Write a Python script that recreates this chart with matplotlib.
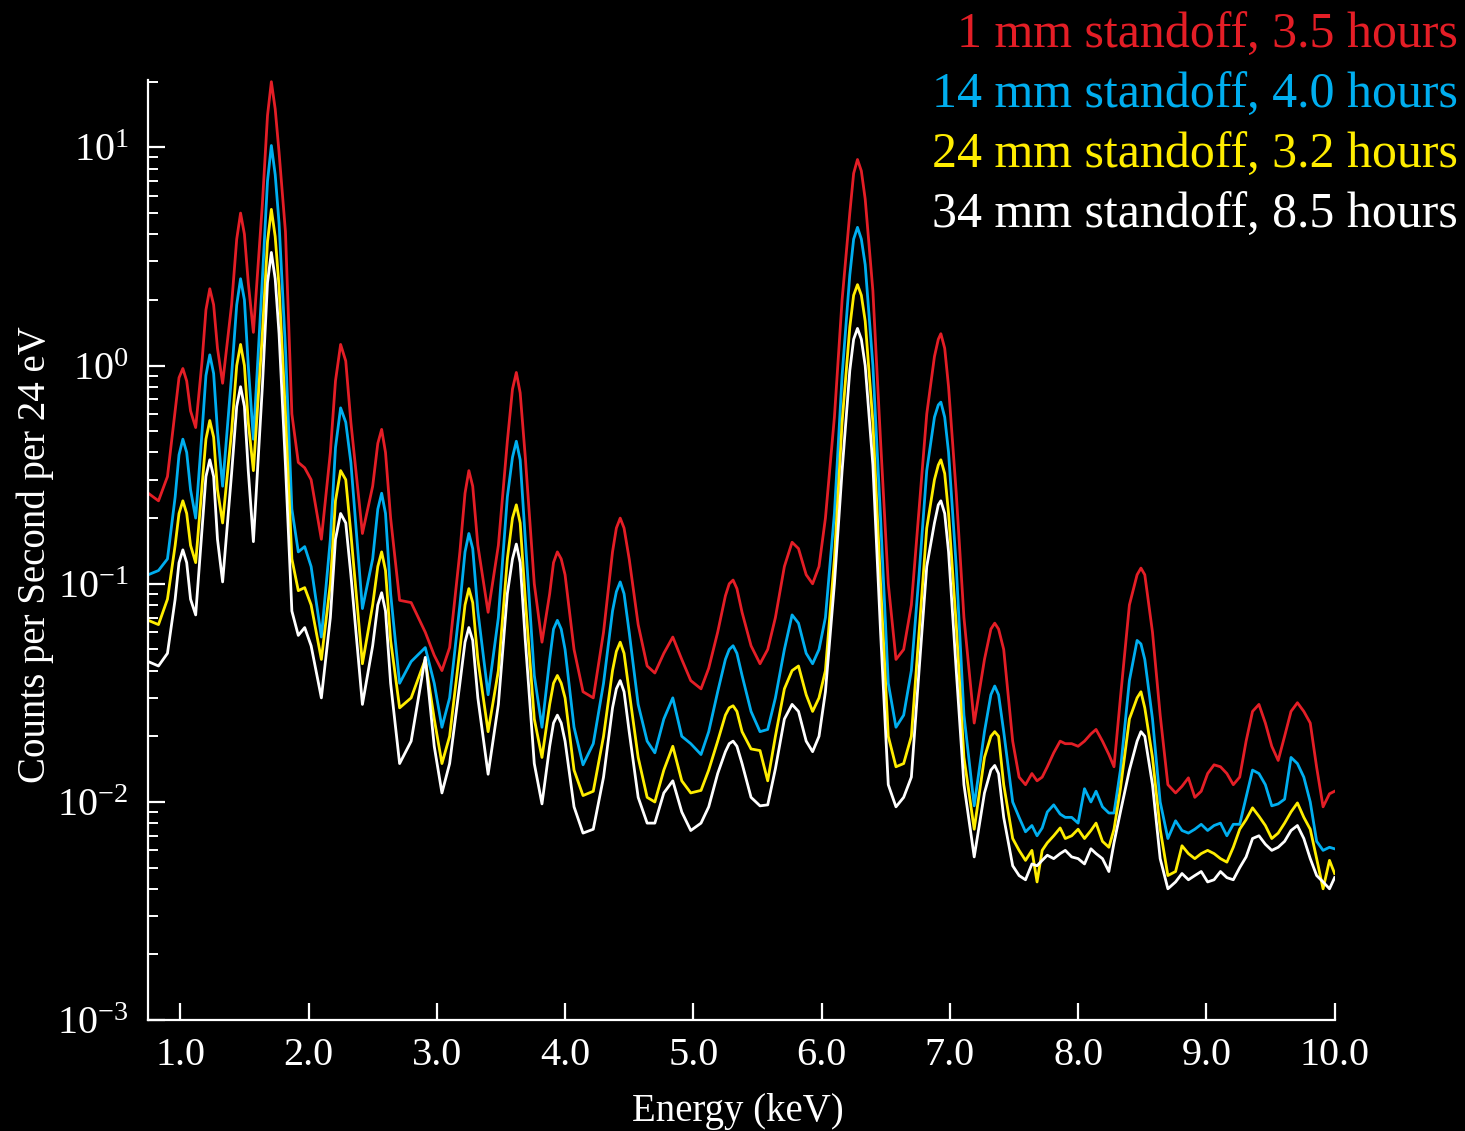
import matplotlib.pyplot as plt
from matplotlib.ticker import FixedLocator, NullFormatter

# serif fonts everywhere, mathtext too (for the 10^n tick labels)
plt.rcParams['font.family'] = 'Liberation Serif'
plt.rcParams['mathtext.fontset'] = 'custom'
plt.rcParams['mathtext.rm'] = 'Liberation Serif'
plt.rcParams['mathtext.default'] = 'regular'

# energy channels (keV), shared by all four spectra
energy = [
    0.75, 0.83, 0.90, 0.96, 0.99, 1.02, 1.05, 1.08, 1.12, 1.17, 1.20, 1.23, 1.26, 1.29, 1.33, 1.40, 1.44, 1.47, 1.50, 1.53, 1.57, 1.64, 1.68, 1.71, 1.74, 1.77, 1.82, 1.87, 1.92, 1.97, 2.02,
    2.10, 2.17, 2.21, 2.25, 2.29, 2.33, 2.42, 2.50, 2.54, 2.57, 2.60, 2.64, 2.71, 2.80, 2.91, 2.98, 3.04,
    3.10, 3.18, 3.22, 3.25, 3.28, 3.32, 3.40, 3.48, 3.55, 3.59, 3.62, 3.65, 3.69, 3.76, 3.82, 3.88, 3.91, 3.94, 3.97, 4.00,
    4.07, 4.14, 4.22, 4.30, 4.37, 4.40, 4.43, 4.46, 4.50, 4.57, 4.64, 4.70, 4.77, 4.84, 4.91, 4.98,
    5.06, 5.12, 5.19, 5.25, 5.28, 5.31, 5.34, 5.38, 5.45, 5.52, 5.58, 5.64, 5.71, 5.77, 5.82, 5.88, 5.93, 5.98,
    6.03, 6.10, 6.16, 6.22, 6.25, 6.28, 6.31, 6.34, 6.40, 6.46, 6.52, 6.58, 6.64, 6.70, 6.76, 6.82, 6.88, 6.91, 6.93, 6.96, 6.99, 7.05,
    7.11, 7.19, 7.27, 7.32, 7.35, 7.38, 7.42, 7.49, 7.54, 7.59, 7.64, 7.68, 7.72, 7.76, 7.81, 7.86, 7.90, 7.95, 8.00, 8.05, 8.10, 8.14,
    8.19, 8.24, 8.28, 8.33, 8.40, 8.46, 8.49, 8.52, 8.58, 8.64, 8.70, 8.76, 8.81, 8.86, 8.91, 8.96, 9.01,
    9.06, 9.11, 9.16, 9.21, 9.26, 9.31, 9.36, 9.41, 9.46, 9.51, 9.56, 9.61, 9.66, 9.71, 9.76, 9.81, 9.86, 9.91, 9.96, 10.00,
]

# counts per second per 24 eV
standoff_1mm = [
    0.26, 0.24, 0.31, 0.62, 0.88, 0.97, 0.85, 0.62, 0.52, 1.05, 1.8, 2.25, 1.9, 1.2, 0.83, 1.9, 3.8, 5.0, 4.0, 2.4, 1.42, 5.5, 14.0, 20.0, 15.0, 9.5, 4.1, 0.60, 0.36, 0.34, 0.30,
    0.16, 0.40, 0.85, 1.25, 1.05, 0.55, 0.17, 0.28, 0.44, 0.51, 0.40, 0.20, 0.084, 0.082, 0.060, 0.047, 0.040,
    0.051, 0.14, 0.26, 0.33, 0.28, 0.15, 0.074, 0.15, 0.45, 0.78, 0.93, 0.75, 0.38, 0.10, 0.054, 0.09, 0.125, 0.14, 0.13, 0.11,
    0.050, 0.032, 0.030, 0.060, 0.14, 0.18, 0.20, 0.18, 0.13, 0.065, 0.042, 0.039, 0.048, 0.057, 0.045, 0.036,
    0.033, 0.041, 0.060, 0.088, 0.100, 0.104, 0.095, 0.074, 0.052, 0.043, 0.050, 0.070, 0.12, 0.155, 0.145, 0.11, 0.10, 0.12,
    0.20, 0.58, 2.0, 5.0, 7.6, 8.8, 7.8, 5.8, 2.2, 0.45, 0.10, 0.045, 0.050, 0.080, 0.22, 0.60, 1.10, 1.32, 1.40, 1.20, 0.80, 0.26,
    0.070, 0.023, 0.045, 0.062, 0.066, 0.062, 0.050, 0.019, 0.013, 0.012, 0.0135, 0.0125, 0.013, 0.0145, 0.0168, 0.019, 0.0185, 0.0185, 0.018, 0.019, 0.0205, 0.0215,
    0.019, 0.0165, 0.0145, 0.030, 0.080, 0.110, 0.118, 0.110, 0.060, 0.025, 0.012, 0.0110, 0.0118, 0.0129, 0.0105, 0.0112, 0.0135,
    0.0148, 0.0145, 0.0135, 0.0120, 0.0130, 0.019, 0.026, 0.028, 0.023, 0.018, 0.0155, 0.020, 0.026, 0.0285, 0.026, 0.023, 0.0144, 0.0095, 0.0109, 0.0112,
]

standoff_14mm = [
    0.110, 0.115, 0.130, 0.25, 0.39, 0.46, 0.40, 0.27, 0.20, 0.50, 0.90, 1.12, 0.92, 0.50, 0.28, 0.90, 1.9, 2.5, 2.0, 1.0, 0.46, 2.5, 7.0, 10.2, 7.5, 4.5, 1.2, 0.22, 0.14, 0.148, 0.12,
    0.057, 0.16, 0.42, 0.64, 0.55, 0.36, 0.077, 0.13, 0.22, 0.26, 0.21, 0.09, 0.035, 0.044, 0.051, 0.035, 0.022,
    0.030, 0.08, 0.14, 0.17, 0.145, 0.075, 0.031, 0.07, 0.25, 0.38, 0.45, 0.37, 0.16, 0.038, 0.022, 0.045, 0.062, 0.068, 0.062, 0.050,
    0.022, 0.0148, 0.0185, 0.035, 0.075, 0.092, 0.102, 0.090, 0.060, 0.028, 0.019, 0.0168, 0.024, 0.030, 0.020, 0.0185,
    0.0165, 0.021, 0.032, 0.045, 0.050, 0.052, 0.048, 0.038, 0.026, 0.021, 0.0215, 0.030, 0.050, 0.072, 0.066, 0.048, 0.043, 0.050,
    0.070, 0.21, 0.9, 2.6, 3.8, 4.3, 3.8, 2.9, 1.0, 0.2, 0.035, 0.022, 0.025, 0.040, 0.11, 0.33, 0.58, 0.66, 0.68, 0.58, 0.40, 0.12,
    0.025, 0.0096, 0.021, 0.031, 0.034, 0.031, 0.021, 0.0100, 0.0085, 0.0073, 0.0078, 0.0070, 0.0076, 0.0090, 0.0097, 0.0088, 0.0085, 0.0085, 0.0080, 0.0115, 0.0100, 0.0112,
    0.0095, 0.0089, 0.0089, 0.014, 0.036, 0.055, 0.053, 0.045, 0.024, 0.010, 0.0068, 0.0082, 0.0074, 0.0072, 0.0075, 0.0079, 0.0074,
    0.0078, 0.0080, 0.0070, 0.0079, 0.0079, 0.0105, 0.0140, 0.0135, 0.0120, 0.0096, 0.0098, 0.0103, 0.0160, 0.0150, 0.0130, 0.0100, 0.0066, 0.0060, 0.0062, 0.0061,
]

standoff_24mm = [
    0.068, 0.065, 0.085, 0.15, 0.21, 0.24, 0.21, 0.15, 0.125, 0.28, 0.46, 0.56, 0.47, 0.27, 0.19, 0.50, 1.0, 1.25, 1.0, 0.55, 0.33, 1.4, 3.7, 5.2, 3.9, 2.3, 0.6, 0.13, 0.093, 0.096, 0.080,
    0.045, 0.10, 0.24, 0.33, 0.30, 0.17, 0.043, 0.08, 0.12, 0.14, 0.115, 0.055, 0.027, 0.030, 0.045, 0.024, 0.015,
    0.020, 0.050, 0.080, 0.095, 0.082, 0.045, 0.021, 0.040, 0.13, 0.20, 0.23, 0.19, 0.085, 0.024, 0.016, 0.028, 0.035, 0.038, 0.035, 0.030,
    0.014, 0.0107, 0.0112, 0.020, 0.040, 0.049, 0.054, 0.048, 0.032, 0.016, 0.0105, 0.0100, 0.0140, 0.018, 0.0125, 0.0110,
    0.0113, 0.0140, 0.019, 0.025, 0.027, 0.0276, 0.026, 0.021, 0.0175, 0.0172, 0.0125, 0.020, 0.033, 0.040, 0.042, 0.031, 0.026, 0.030,
    0.040, 0.13, 0.55, 1.5, 2.1, 2.35, 2.1, 1.6, 0.55, 0.10, 0.020, 0.0145, 0.0150, 0.020, 0.06, 0.18, 0.30, 0.35, 0.37, 0.32, 0.21, 0.065,
    0.016, 0.0075, 0.016, 0.020, 0.021, 0.020, 0.012, 0.0068, 0.0060, 0.0054, 0.0060, 0.0043, 0.0060, 0.0065, 0.0070, 0.0076, 0.0068, 0.0070, 0.0075, 0.0068, 0.0074, 0.0080,
    0.0066, 0.0062, 0.0075, 0.0115, 0.024, 0.030, 0.032, 0.027, 0.016, 0.0075, 0.0046, 0.0048, 0.0063, 0.0058, 0.0055, 0.0058, 0.0060,
    0.0058, 0.0055, 0.0053, 0.0062, 0.0075, 0.0083, 0.0094, 0.0086, 0.0078, 0.0068, 0.0072, 0.0080, 0.0090, 0.0099, 0.0085, 0.0075, 0.0055, 0.0040, 0.0054, 0.0047,
]

standoff_34mm = [
    0.044, 0.042, 0.048, 0.085, 0.125, 0.143, 0.125, 0.085, 0.072, 0.18, 0.31, 0.37, 0.31, 0.16, 0.102, 0.32, 0.65, 0.80, 0.65, 0.33, 0.156, 0.8, 2.4, 3.3, 2.5, 1.4, 0.35, 0.075, 0.058, 0.063, 0.052,
    0.030, 0.07, 0.16, 0.21, 0.19, 0.11, 0.028, 0.052, 0.08, 0.091, 0.075, 0.035, 0.015, 0.019, 0.046, 0.018, 0.011,
    0.015, 0.035, 0.054, 0.063, 0.055, 0.030, 0.0134, 0.028, 0.09, 0.13, 0.152, 0.125, 0.055, 0.015, 0.0098, 0.018, 0.023, 0.025, 0.023, 0.019,
    0.0095, 0.0072, 0.0075, 0.013, 0.027, 0.033, 0.036, 0.032, 0.021, 0.0105, 0.0080, 0.0080, 0.0110, 0.0125, 0.0090, 0.0074,
    0.0080, 0.0095, 0.0135, 0.017, 0.0185, 0.019, 0.018, 0.0150, 0.0105, 0.0096, 0.0097, 0.0142, 0.024, 0.028, 0.026, 0.019, 0.017, 0.020,
    0.032, 0.10, 0.33, 0.95, 1.32, 1.48, 1.32, 1.0, 0.35, 0.06, 0.012, 0.0095, 0.0105, 0.0130, 0.04, 0.12, 0.19, 0.23, 0.24, 0.21, 0.14, 0.04,
    0.012, 0.0056, 0.011, 0.0140, 0.0147, 0.0135, 0.0085, 0.0051, 0.0046, 0.0044, 0.0052, 0.0051, 0.0054, 0.0057, 0.0055, 0.0058, 0.0060, 0.0056, 0.0055, 0.0052, 0.0061, 0.0058,
    0.0055, 0.0048, 0.0065, 0.0090, 0.014, 0.019, 0.021, 0.020, 0.012, 0.0055, 0.0040, 0.0043, 0.0047, 0.0044, 0.0046, 0.0048, 0.0043,
    0.0044, 0.0048, 0.0045, 0.0044, 0.0050, 0.0056, 0.0068, 0.0070, 0.0064, 0.0060, 0.0062, 0.0066, 0.0074, 0.0078, 0.0068, 0.0055, 0.0046, 0.0043, 0.0040, 0.0045,
]

labels = ['1 mm standoff, 3.5 hours', '14 mm standoff, 4.0 hours',
          '24 mm standoff, 3.2 hours', '34 mm standoff, 8.5 hours']
colors = ['#e41e26', '#00aeef', '#ffed00', '#ffffff']
series = [standoff_1mm, standoff_14mm, standoff_24mm, standoff_34mm]

x_ticks = [1, 2, 3, 4, 5, 6, 7, 8, 9, 10]
x_tick_labels = ['1.0', '2.0', '3.0', '4.0', '5.0', '6.0', '7.0', '8.0', '9.0', '10.0']
y_ticks = [1e-3, 1e-2, 1e-1, 1e0, 1e1]
y_tick_labels = ['10$^{-3}$', '10$^{-2}$', '10$^{-1}$', '10$^{0}$', '10$^{1}$']

fig = plt.figure(figsize=(14.65, 11.31), dpi=100, facecolor='black')
ax = fig.add_axes([0.101, 0.098, 0.810, 0.831])
ax.set_facecolor('black')

# the four spectra, 34 mm drawn last so it sits on top
for vals, color in zip(series, colors):
    ax.plot(energy, vals, color=color, lw=2.0, solid_joinstyle='round')

ax.set_yscale('log')
ax.set_xlim(0.748, 10.0)
ax.set_ylim(1e-3, 20.3)

for side in ['top', 'right']:
    ax.spines[side].set_visible(False)
for side in ['left', 'bottom']:
    ax.spines[side].set_color('white')
    ax.spines[side].set_linewidth(1.6)

ax.set_xticks(x_ticks)
ax.set_xticklabels(x_tick_labels)
ax.set_yticks(y_ticks)
ax.set_yticklabels(y_tick_labels)
minor = [m * 10.0 ** e for e in range(-3, 2) for m in range(2, 10)]
ax.yaxis.set_minor_locator(FixedLocator(minor))
ax.yaxis.set_minor_formatter(NullFormatter())

ax.tick_params(which='major', direction='in', length=12, width=1.6,
               colors='white', labelsize=29)
ax.tick_params(which='minor', direction='in', length=7, width=1.4, colors='white')
ax.tick_params(axis='x', pad=12)
ax.tick_params(axis='y', pad=14)

ax.set_xlabel('Energy (keV)', fontsize=28, color='white')
ax.xaxis.set_label_coords(0.497, -0.077)
fig.text(35 / 1465, 1 - 555 / 1131, 'Counts per Second per 24 eV', color='white',
         fontsize=28, rotation=90, ha='center', va='center')

# color-coded legend text in the top right corner
for i, (label, color) in enumerate(zip(labels, colors)):
    fig.text(1458 / 1465, 1 - (48 + 60 * i) / 1131, label, color=color,
             fontsize=36, ha='right', va='baseline')

plt.savefig('out.png', dpi=100, facecolor='black')
